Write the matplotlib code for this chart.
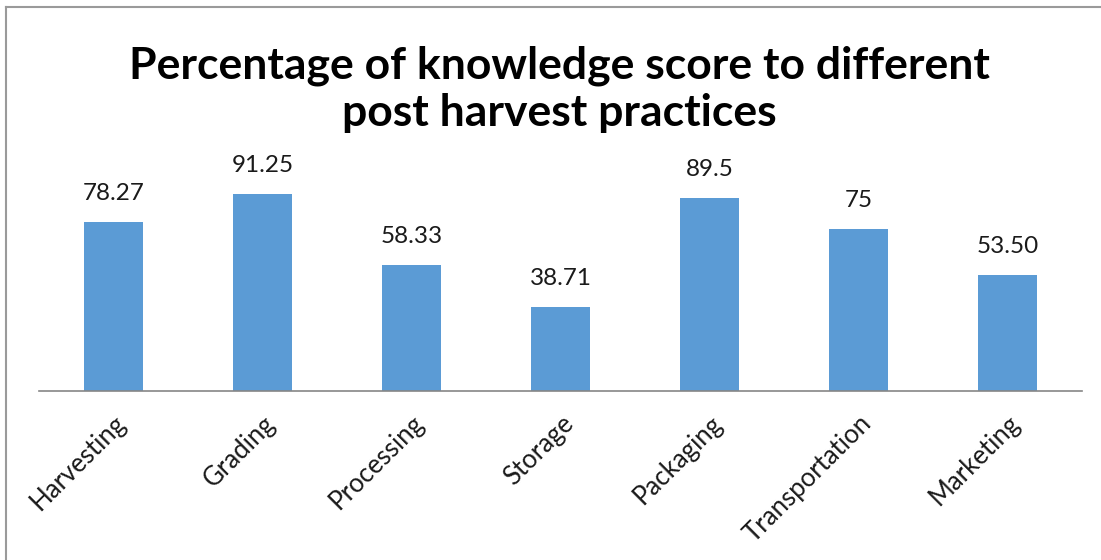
import matplotlib.pyplot as plt
from matplotlib.lines import Line2D

# data
practices = ['Harvesting', 'Grading', 'Processing', 'Storage',
             'Packaging', 'Transportation', 'Marketing']
scores = [78.27, 91.25, 58.33, 38.71, 89.5, 75, 53.50]
score_labels = ['78.27', '91.25', '58.33', '38.71', '89.5', '75', '53.50']

plt.rcParams['font.family'] = ['Lato', 'DejaVu Sans']

W, H = 1101, 560
fig = plt.figure(figsize=(W / 100, H / 100), dpi=100)
ax = fig.add_axes([39 / W, 1 - 391 / H, 1043 / W, 216 / H])

x = list(range(len(practices)))
bars = ax.bar(x, scores, width=0.39, color='#5B9BD5')
ax.bar_label(bars, labels=score_labels, padding=13, fontsize=17.5, color='#1a1a1a')

ax.set_xlim(-0.5, len(practices) - 0.5)
ax.set_ylim(0, 100)
ax.set_xticks(x)
ax.set_xticklabels(practices, rotation=45, ha='right', va='top',
                   rotation_mode='anchor', fontsize=18.5, color='#1a1a1a')
ax.tick_params(axis='x', length=0, pad=14)
ax.set_yticks([])
for side in ['top', 'right', 'left']:
    ax.spines[side].set_visible(False)
ax.spines['bottom'].set_color('#868686')
ax.spines['bottom'].set_linewidth(1.2)
ax.patch.set_alpha(0)

fig.text(559 / W, 1 - 89 / H,
         'Percentage of knowledge score to different\npost harvest practices',
         ha='center', va='center', fontsize=32, fontweight='bold',
         linespacing=1.2, color='black')

# chart border (top and left edges only, the rest is cropped)
fig.add_artist(Line2D([6 / W, 1], [1 - 7 / H, 1 - 7 / H], color='#9a9a9a', lw=1.5,
                      transform=fig.transFigure))
fig.add_artist(Line2D([6 / W, 6 / W], [0, 1 - 7 / H], color='#9a9a9a', lw=1.5,
                      transform=fig.transFigure))

fig.savefig('out.png', dpi=100)
